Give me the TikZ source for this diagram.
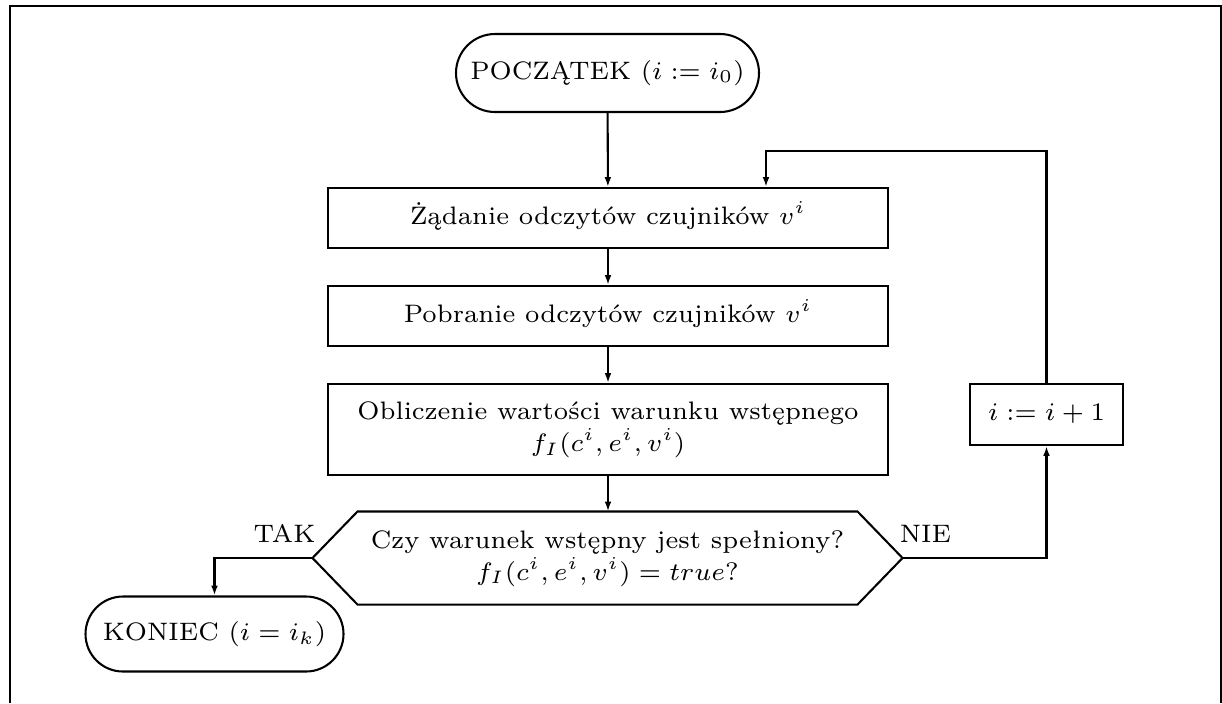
\documentclass[tikz,border=0pt]{standalone}
\usepackage{fontspec}
\usepackage{graphicx}
\usetikzlibrary{arrows.meta}
\newlength{\pxu}
\setlength{\pxu}{0.3876pt}
% small-size type, enlarged: every label is set at 7pt and scaled up
\newcommand{\lbl}[1]{\scalebox{1.4}{\fontsize{7pt}{8.6pt}\selectfont\begin{tabular}{@{}c@{}}#1\end{tabular}}}
\tikzset{
  base/.style={line width=0.8pt},
  stepbox/.style={base, draw, rectangle, minimum width=560\pxu, inner sep=1pt},
  terminal/.style={base, draw, rectangle, rounded corners=#1, inner sep=1pt},
  flow/.style={base, -{Latex[length=3.8pt,width=2.6pt]}},
  frameline/.style={line width=0.8pt},
}
\begin{document}
\begin{tikzpicture}[x=\pxu, y=-\pxu]
  \useasboundingbox (0,0) rectangle (1222,703);
  % outer frame, open at the bottom
  \draw[frameline] (10,703) -- (10,6) -- (1221,6) -- (1221,703);

  % start and end terminals
  \node[terminal=39\pxu, minimum width=303\pxu, minimum height=78\pxu] (start) at (607.5,73)
    {\lbl{POCZĄTEK ($i := i_0$)}};
  \node[terminal=37.5\pxu, minimum width=258\pxu, minimum height=75\pxu] (stop) at (214.5,634)
    {\lbl{KONIEC ($i = i_k$)}};

  % processing steps
  \node[stepbox, minimum height=60\pxu] (req) at (608,218) {\lbl{Żądanie odczytów czujników $v^i$}};
  \node[stepbox, minimum height=60\pxu] (get) at (608,316) {\lbl{Pobranie odczytów czujników $v^i$}};
  \node[stepbox, minimum height=91\pxu] (calc) at (608,429.5)
    {\lbl{Obliczenie wartości warunku wstępnego\\ $f_I(c^i, e^i, v^i)$}};

  % decision (hexagon)
  \node[minimum width=589\pxu, minimum height=92\pxu, inner sep=0pt] (dec) at (607.5,558)
    {\lbl{Czy warunek wstępny jest spełniony?\\ $f_I(c^i, e^i, v^i) = true$?}};
  \draw[base] (dec.west) -- ([xshift=45\pxu]dec.north west) -- ([xshift=-45\pxu]dec.north east)
    -- (dec.east) -- ([xshift=-45\pxu]dec.south east) -- ([xshift=45\pxu]dec.south west) -- cycle;

  % counter increment
  \node[base, draw, rectangle, minimum width=153\pxu, minimum height=61\pxu, inner sep=1pt] (inc) at (1046.5,414.5)
    {\lbl{$i := i + 1$}};

  % main flow
  \draw[flow] (start) -- (req);
  \draw[flow] (req) -- (get);
  \draw[flow] (get) -- (calc);
  \draw[flow] (calc) -- (dec.north -| calc.south);

  % branches
  \draw[flow] (dec.west) -| (stop.north);
  \draw[flow] (dec.east) -| (inc.south);
  \coordinate (back) at (766,151);
  \draw[flow] (inc.north) |- (back) -- (back |- req.north);

  % branch labels
  \node[inner sep=0pt] (tak) at (284.5,536.5) {\lbl{TAK}};
  \node[inner sep=0pt] (nie) at (925.5,536) {\lbl{NIE}};
\end{tikzpicture}
\end{document}
